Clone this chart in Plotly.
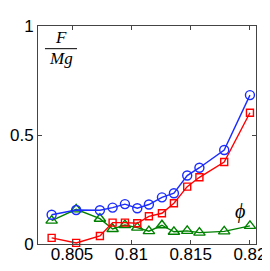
import plotly.graph_objects as go

x_vals = [0.80328, 0.80535, 0.80735, 0.80842, 0.80946, 0.81050, 0.81148,
          0.81258, 0.81359, 0.81471, 0.81574, 0.81783, 0.82000]
force_blue = [0.134, 0.156, 0.155, 0.167, 0.183, 0.164, 0.181,
              0.214, 0.233, 0.314, 0.350, 0.431, 0.683]
force_red = [0.028, 0.005, 0.037, 0.098, 0.098, 0.095, 0.127,
             0.141, 0.187, 0.263, 0.306, 0.376, 0.602]
phi_green = [0.107, 0.159, 0.116, 0.069, 0.087, 0.075, 0.059,
             0.086, 0.056, 0.060, 0.052, 0.058, 0.083]
x_ticks = [0.805, 0.81, 0.815, 0.82]
x_tick_labels = ["0.805", "0.81", "0.815", "0.82"]
y_ticks = [0, 0.5, 1]
y_tick_labels = ["0", "0.5", "1"]

fig = go.Figure()
fig.add_trace(go.Scatter(
    x=x_vals, y=phi_green, mode="lines+markers",
    line=dict(color="#008000", width=1.4),
    marker=dict(symbol="triangle-up-open", size=10, color="#008000",
                line=dict(width=1.4, color="#008000")),
    showlegend=False, cliponaxis=False))
fig.add_trace(go.Scatter(
    x=x_vals, y=force_red, mode="lines+markers",
    line=dict(color="#ff0000", width=1.4),
    marker=dict(symbol="square-open", size=7, color="#ff0000",
                line=dict(width=1.4, color="#ff0000")),
    showlegend=False, cliponaxis=False))
fig.add_trace(go.Scatter(
    x=x_vals, y=force_blue, mode="lines+markers",
    line=dict(color="#1a2cff", width=1.4),
    marker=dict(symbol="circle-open", size=9, color="#1a2cff",
                line=dict(width=1.4, color="#1a2cff")),
    showlegend=False, cliponaxis=False))

axis_common = dict(showgrid=False, zeroline=False, showline=True,
                   linecolor="#444444", linewidth=1, mirror="ticks",
                   ticks="inside", ticklen=4, tickcolor="#444444",
                   automargin=False,
                   tickfont=dict(family="Liberation Sans, Arial", size=17, color="black"))
fig.update_xaxes(range=[0.80213, 0.82051], tickvals=x_ticks, ticktext=x_tick_labels,
                 ticklabelstandoff=-5, **axis_common)
fig.update_yaxes(range=[0, 1], tickvals=y_ticks, ticktext=y_tick_labels,
                 ticklabelstandoff=0, **axis_common)

serif = "Liberation Serif, DejaVu Serif, serif"
ann = dict(xref="paper", yref="paper", showarrow=False, xanchor="center", yanchor="middle")
fig.add_annotation(x=0.1055, y=0.945, text="<i>F</i>",
                   font=dict(family=serif, size=17, color="black"), **ann)
fig.add_annotation(x=0.1055, y=0.853, text="<i>Mg</i>",
                   font=dict(family=serif, size=17, color="black"), **ann)
fig.add_shape(type="line", xref="paper", yref="paper", x0=0.032, x1=0.179,
              y0=0.896, y1=0.896, line=dict(color="black", width=1))
fig.add_annotation(x=0.927, y=0.147, text="<i>ϕ</i>",
                   font=dict(family=serif, size=20, color="black"), **ann)

# page body adds an 8px margin, so the figure is sized to fit the window
fig.update_layout(width=262, height=263, margin=dict(l=30, r=14, t=18, b=27),
                  plot_bgcolor="white", paper_bgcolor="white")
fig.write_html("out.html")
